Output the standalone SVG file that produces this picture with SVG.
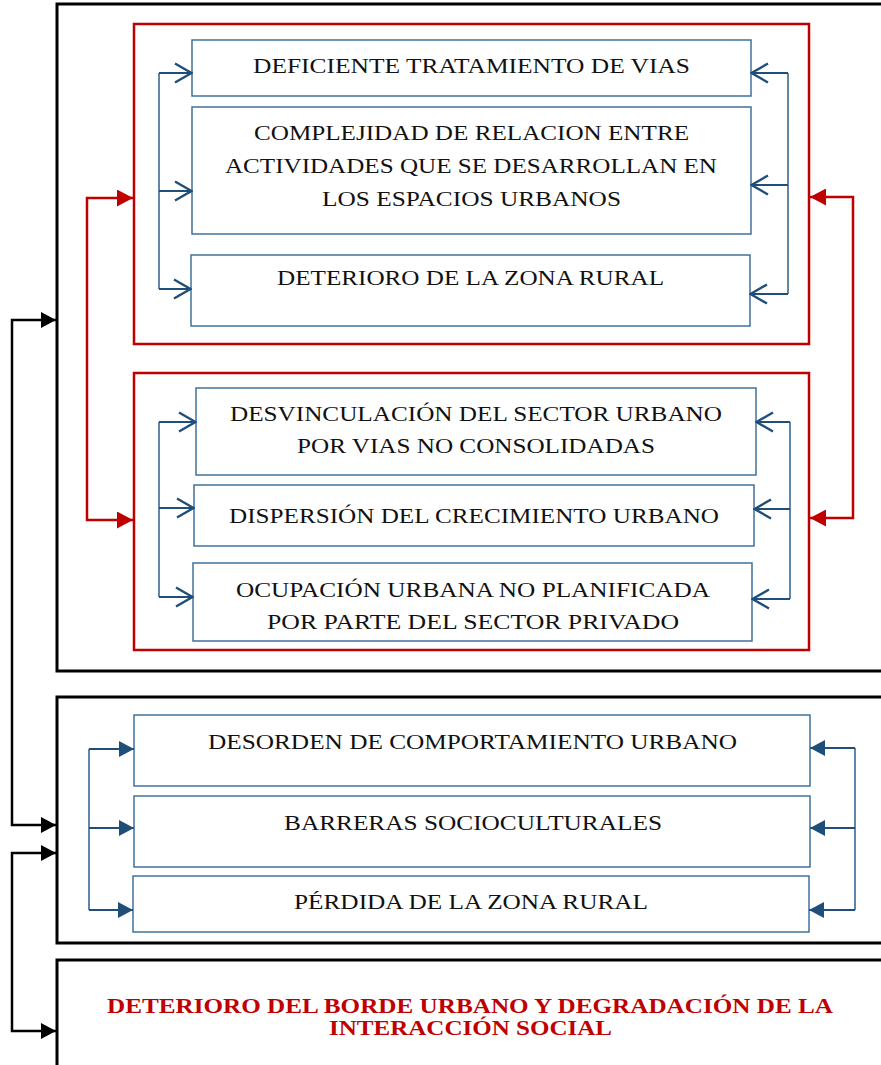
<svg xmlns="http://www.w3.org/2000/svg" width="881" height="1065" viewBox="0 0 881 1065">
<style>
.outer{fill:none;stroke:#000;stroke-width:3}
.red{fill:none;stroke:#C00000;stroke-width:2.5}
.node{fill:#fff;stroke:#41719C;stroke-width:1.5}
.t{font-family:"Liberation Serif","Times New Roman",serif;font-size:22px;fill:#111;text-anchor:middle}
.title{font-family:"Liberation Serif","Times New Roman",serif;font-size:22px;font-weight:bold;fill:#C00000;text-anchor:middle}
.bl{fill:none;stroke:#1F4E79;stroke-width:2}
.bv{fill:none;stroke:#2E5E8E;stroke-width:1.5}
.rc{fill:none;stroke:#C00000;stroke-width:2.5}
.kc{fill:none;stroke:#000;stroke-width:2.5}
</style>
<defs>
<marker id="open" viewBox="0 0 19 22" refX="18" refY="11" markerWidth="19" markerHeight="22" markerUnits="userSpaceOnUse" orient="auto">
<path d="M1,1.5 L17.5,11 L1,20.5" fill="none" stroke="#1F4E79" stroke-width="2.4"/>
</marker>
<marker id="bfill" viewBox="0 0 15 16" refX="15" refY="8" markerWidth="15" markerHeight="16" markerUnits="userSpaceOnUse" orient="auto">
<path d="M0,0 L15,8 L0,16 Z" fill="#1F4E79"/>
</marker>
<marker id="rfill" viewBox="0 0 16 17" refX="16" refY="8.5" markerWidth="16" markerHeight="17" markerUnits="userSpaceOnUse" orient="auto-start-reverse">
<path d="M0,0 L16,8.5 L0,17 Z" fill="#C00000"/>
</marker>
<marker id="kfill" viewBox="0 0 15 16" refX="15" refY="8" markerWidth="15" markerHeight="16" markerUnits="userSpaceOnUse" orient="auto-start-reverse">
<path d="M0,0 L15,8 L0,16 Z" fill="#000"/>
</marker>
</defs>
<rect width="881" height="1065" fill="#fff"/>

<g id="group-top">
<rect class="outer" x="57" y="4" width="840" height="667"/>
</g>
<g id="group-red1">
<rect class="red" x="134" y="24" width="675" height="320"/>
</g>
<g id="group-red2">
<rect class="red" x="134" y="373" width="675" height="277"/>
</g>
<g id="group-middle">
<rect class="outer" x="57" y="697" width="840" height="246"/>
</g>
<g id="group-bottom">
<rect class="outer" x="57" y="960" width="840" height="120"/>
<text class="title" x="470" y="1012.5" textLength="726" lengthAdjust="spacingAndGlyphs">DETERIORO DEL BORDE URBANO Y DEGRADACIÓN DE LA</text>
<text class="title" x="470.5" y="1035" textLength="283" lengthAdjust="spacingAndGlyphs">INTERACCIÓN SOCIAL</text>
</g>

<g id="n1">
<rect class="node" x="192" y="40" width="559" height="56"/>
<text class="t" x="471.5" y="72.5" textLength="437" lengthAdjust="spacingAndGlyphs">DEFICIENTE TRATAMIENTO DE VIAS</text>
</g>
<g id="n2">
<rect class="node" x="192" y="107" width="559" height="127"/>
<text class="t" x="471.5" y="139.5" textLength="435" lengthAdjust="spacingAndGlyphs">COMPLEJIDAD DE RELACION ENTRE</text>
<text class="t" x="471" y="173" textLength="492" lengthAdjust="spacingAndGlyphs">ACTIVIDADES QUE SE DESARROLLAN EN</text>
<text class="t" x="471.5" y="206" textLength="299" lengthAdjust="spacingAndGlyphs">LOS ESPACIOS URBANOS</text>
</g>
<g id="n3">
<rect class="node" x="191" y="255" width="559" height="71"/>
<text class="t" x="470.5" y="284.5" textLength="387" lengthAdjust="spacingAndGlyphs">DETERIORO DE LA ZONA RURAL</text>
</g>
<g id="n4">
<rect class="node" x="196" y="388" width="560" height="87"/>
<text class="t" x="476" y="420.5" textLength="492" lengthAdjust="spacingAndGlyphs">DESVINCULACIÓN DEL SECTOR URBANO</text>
<text class="t" x="476" y="453" textLength="358" lengthAdjust="spacingAndGlyphs">POR VIAS NO CONSOLIDADAS</text>
</g>
<g id="n5">
<rect class="node" x="194" y="485" width="560" height="61"/>
<text class="t" x="474" y="522.5" textLength="490" lengthAdjust="spacingAndGlyphs">DISPERSIÓN DEL CRECIMIENTO URBANO</text>
</g>
<g id="n6">
<rect class="node" x="193" y="563" width="559" height="78"/>
<text class="t" x="473" y="597" textLength="474" lengthAdjust="spacingAndGlyphs">OCUPACIÓN URBANA NO PLANIFICADA</text>
<text class="t" x="473" y="629" textLength="412" lengthAdjust="spacingAndGlyphs">POR PARTE DEL SECTOR PRIVADO</text>
</g>
<g id="n7">
<rect class="node" x="134" y="715" width="676" height="71"/>
<text class="t" x="472.5" y="748.5" textLength="529" lengthAdjust="spacingAndGlyphs">DESORDEN DE COMPORTAMIENTO URBANO</text>
</g>
<g id="n8">
<rect class="node" x="134" y="796" width="676" height="71"/>
<text class="t" x="473" y="829.5" textLength="378" lengthAdjust="spacingAndGlyphs">BARRERAS SOCIOCULTURALES</text>
</g>
<g id="n9">
<rect class="node" x="133" y="876" width="676" height="56"/>
<text class="t" x="471" y="908.5" textLength="354" lengthAdjust="spacingAndGlyphs">PÉRDIDA DE LA ZONA RURAL</text>
</g>

<g id="connectors">
<path class="bv" d="M159,73 V289"/>
<path class="bl" d="M159,73 H192" marker-end="url(#open)"/>
<path class="bl" d="M159,191 H192" marker-end="url(#open)"/>
<path class="bl" d="M159,289 H191" marker-end="url(#open)"/>
<path class="bv" d="M788,73 V294"/>
<path class="bl" d="M788,73 H751" marker-end="url(#open)"/>
<path class="bl" d="M788,185 H751" marker-end="url(#open)"/>
<path class="bl" d="M788,294 H750" marker-end="url(#open)"/>
<path class="bv" d="M159,422 V597"/>
<path class="bl" d="M159,422 H196" marker-end="url(#open)"/>
<path class="bl" d="M159,508 H194" marker-end="url(#open)"/>
<path class="bl" d="M159,597 H193" marker-end="url(#open)"/>
<path class="bv" d="M790,422 V599"/>
<path class="bl" d="M790,422 H756" marker-end="url(#open)"/>
<path class="bl" d="M790,509 H754" marker-end="url(#open)"/>
<path class="bl" d="M790,599 H752" marker-end="url(#open)"/>
<path class="bv" d="M89,749 V910"/>
<path class="bl" d="M89,749 H134" marker-end="url(#bfill)"/>
<path class="bl" d="M89,828 H134" marker-end="url(#bfill)"/>
<path class="bl" d="M89,910 H133" marker-end="url(#bfill)"/>
<path class="bv" d="M855,748 V910"/>
<path class="bl" d="M855,748 H810" marker-end="url(#bfill)"/>
<path class="bl" d="M855,828 H810" marker-end="url(#bfill)"/>
<path class="bl" d="M855,910 H809" marker-end="url(#bfill)"/>
<path class="rc" d="M133,198 H87 V520 H133" marker-start="url(#rfill)" marker-end="url(#rfill)"/>
<path class="rc" d="M810,197 H853 V518 H810" marker-start="url(#rfill)" marker-end="url(#rfill)"/>
<path class="kc" d="M56,320 H12 V825 H56" marker-start="url(#kfill)" marker-end="url(#kfill)"/>
<path class="kc" d="M56,853 H12 V1031 H56" marker-start="url(#kfill)" marker-end="url(#kfill)"/>
</g>
</svg>
